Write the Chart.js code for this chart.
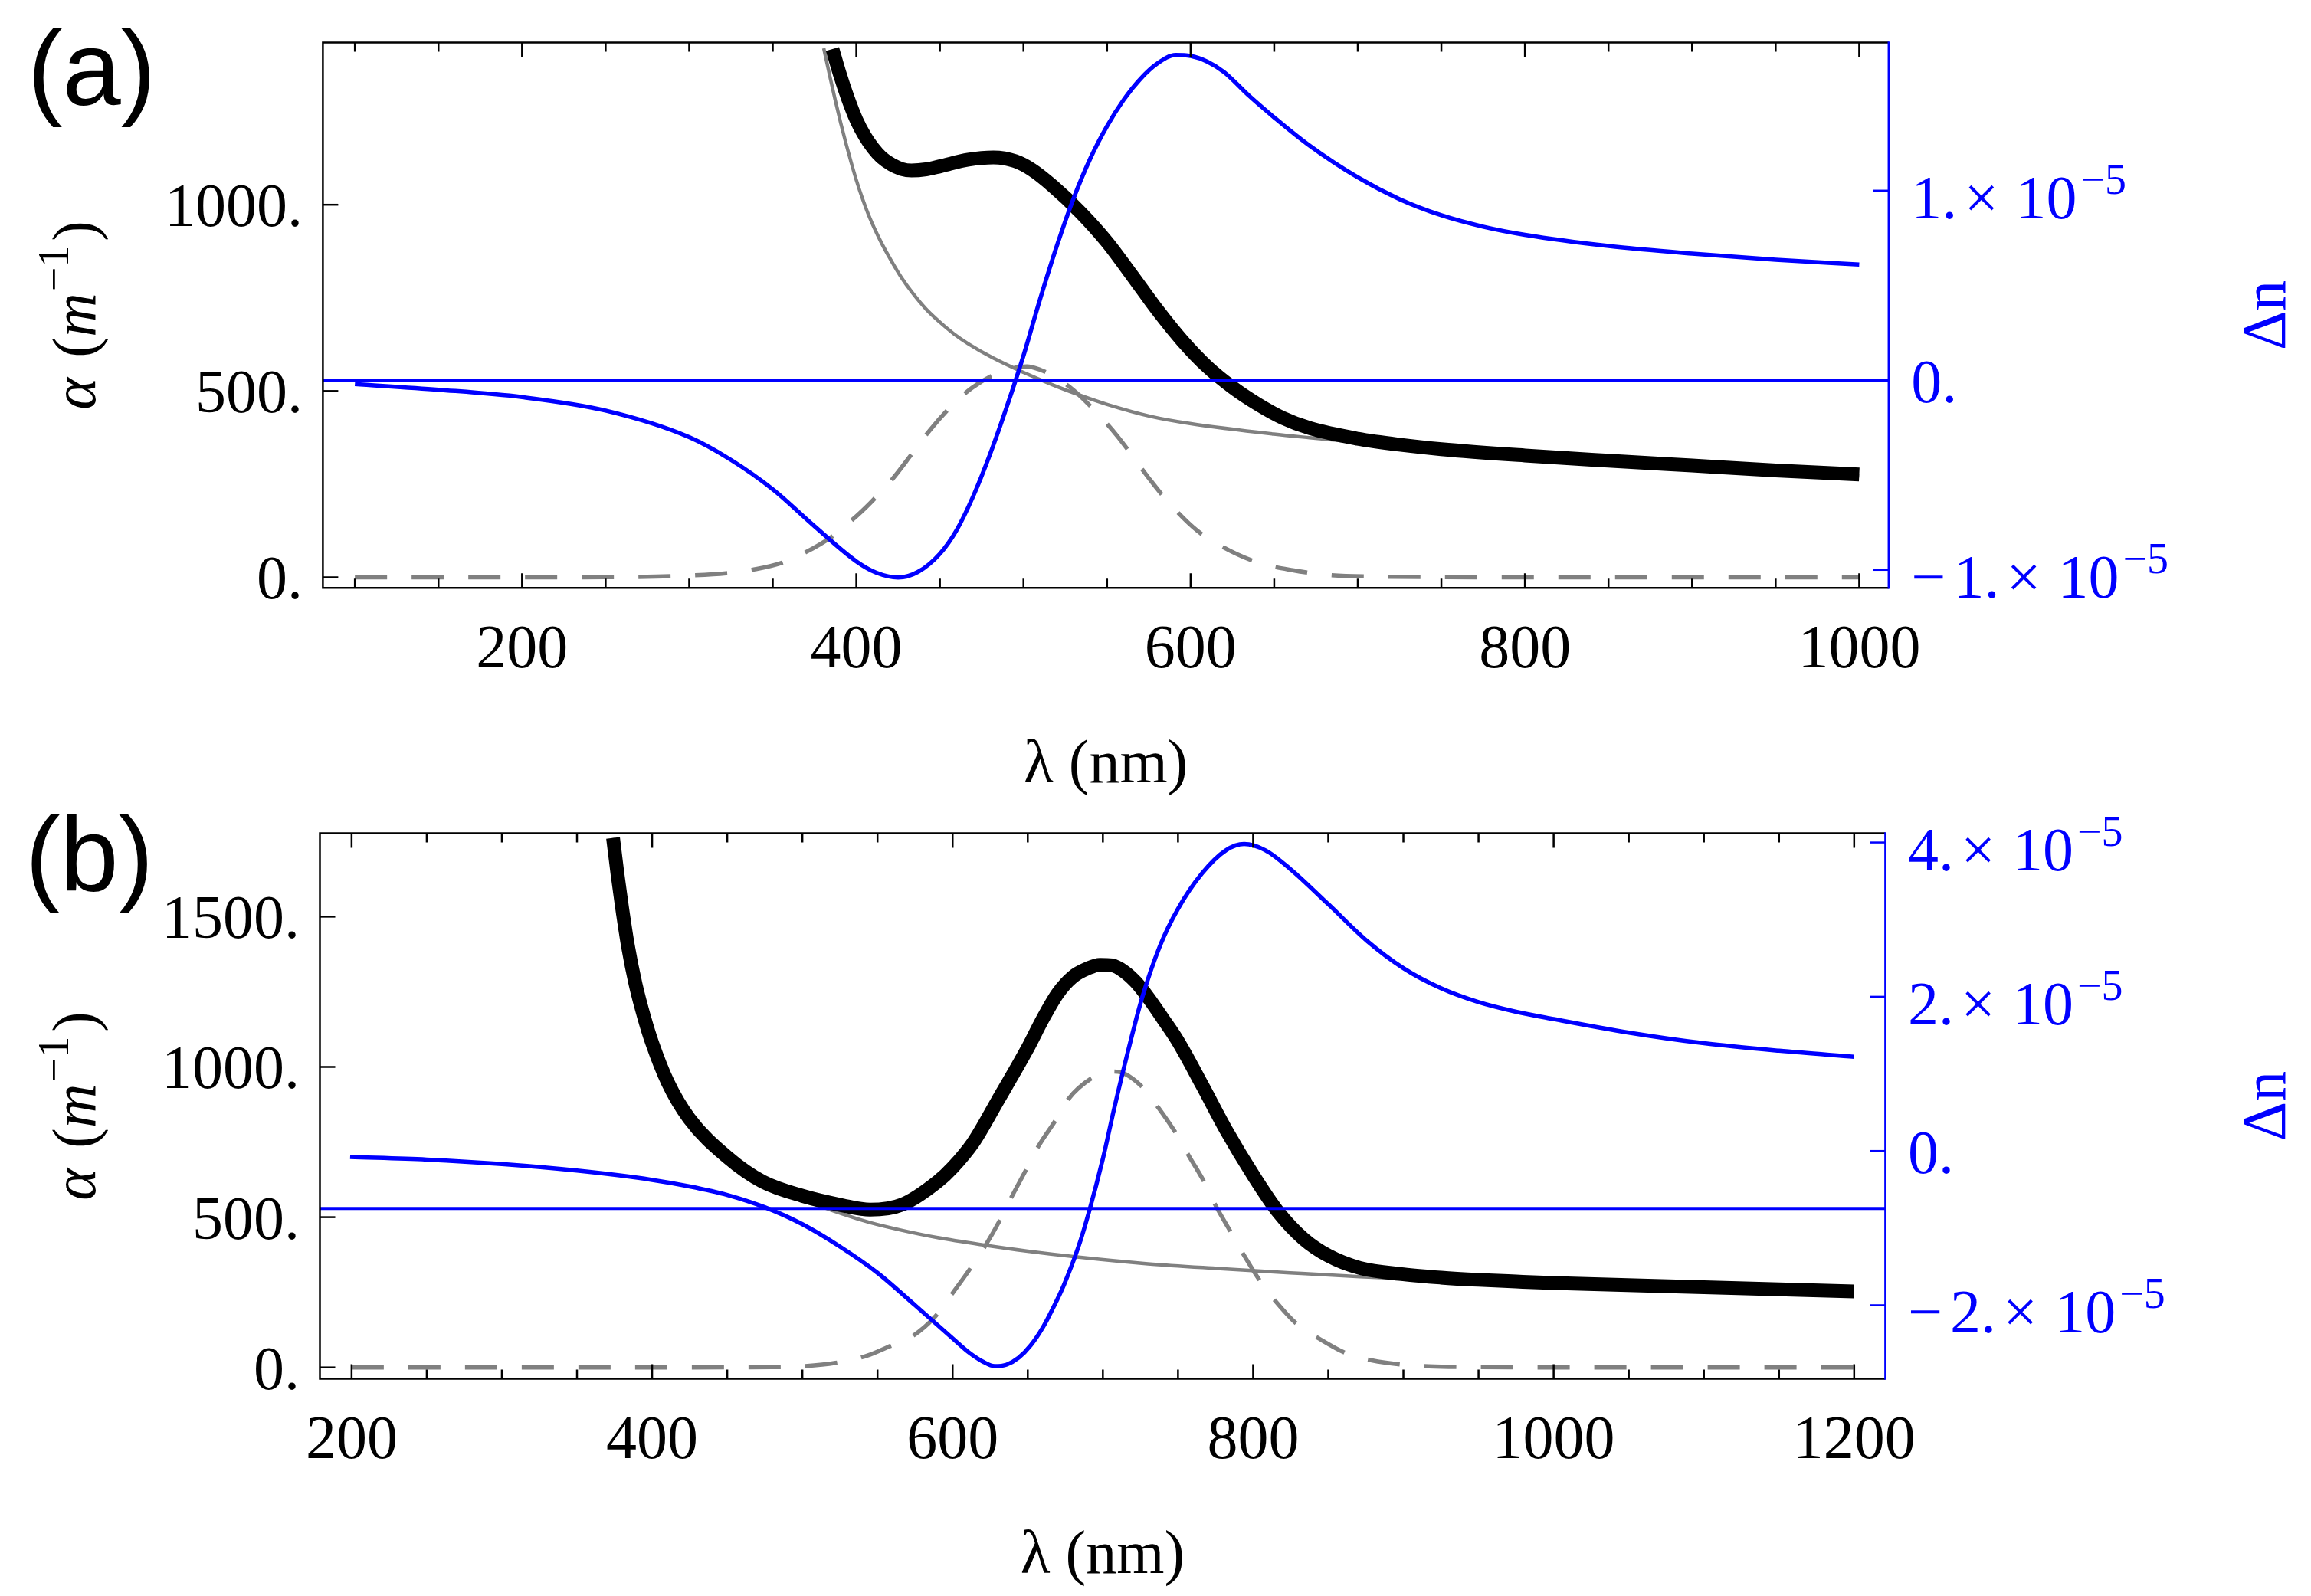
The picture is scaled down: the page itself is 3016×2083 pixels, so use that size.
<!DOCTYPE html>
<html><head><meta charset="utf-8">
<script src="https://cdn.jsdelivr.net/npm/chart.js@4.4.1/dist/chart.umd.min.js"></script>
<style>
html,body{margin:0;padding:0;background:#fff;width:3016px;height:2083px;overflow:hidden}
canvas{position:absolute;left:0}
#ca{top:0}
#cb{top:1040px}
</style></head><body>
<canvas id="ca" width="3016" height="1040"></canvas>
<canvas id="cb" width="3016" height="1043"></canvas>
<script>
// ---------------- Panel (a) data ----------------
// Δn (units of 1e-5), right axis
const dnA_x = [100,150,200,250,300,325,350,375,400,412,425,437,450,460,470,480,490,500,510,520,530,540,550,560,570,580,591,600,610,620,635,650,670,700,725,750,775,800,850,900,950,1000];
const dnA_y = [-0.02,-0.05,-0.089,-0.16,-0.30,-0.42,-0.575,-0.77,-0.955,-1.015,-1.04,-1.01,-0.915,-0.79,-0.61,-0.39,-0.14,0.13,0.43,0.71,0.96,1.17,1.34,1.48,1.59,1.67,1.715,1.71,1.68,1.625,1.50,1.386,1.245,1.07,0.955,0.87,0.81,0.767,0.708,0.668,0.636,0.610];
// total absorption α (m^-1), thick black
const alphaA_x = [385.7,390,395,400,405,410,415,421,427,433,441.7,450,467,482,495,505,517.5,534,550,565,580,595,610,625,640,655,671.5,700,725,750,800,850,900,950,1000];
const alphaA_y = [1418,1352,1285,1228,1185,1152,1127,1108,1096,1092,1095,1103,1121,1127,1117,1094,1050,980,900,810,718,635,565,510,465,428,400,372,356,344,327,313,300,287,276];
// background absorption, thin gray
const bgA_x = [380.5,384,387.3,390.5,393.7,397,400,404,408,414.3,420.6,426.9,433.3,441.7,449.7,458.5,466.9,481.7,500,517.5,534.3,549.7,576.4,599.6,649.7,671.1,700,800,900,1000];
const bgA_y = [1420,1348,1282,1222,1166,1112,1066,1012,965,904,852,805,765,720,686,653,627,589,550,516.5,488,464.5,431.5,412.6,384.3,374.8,363,323,296,272];
// Gaussian band, dashed gray
const gaussA_x = [100,200,250,280,300,322,340,356,370,385,397,408,422,433,444,457,469,482,495,502,510,518,530,541,556,575,587,604,619,640,661,682,714,750,800,1000];
const gaussA_y = [0,0,0.5,2,5,11,22,40,68,108,152,198,266,330,395,460,508,543,563,566,557,540,502,455,380,266,200,125,82,40,19,6.6,1.9,0.5,0,0];
// horizontal axis line (α units)
const refA_x = [80.85,1017.6];
const refA_y = [529,529];
// ticks (a)
const xTicksA = [100,150,200,250,300,350,400,450,500,550,600,650,700,750,800,850,900,950,1000];
const xLabelValsA = [200,400,600,800,1000];
const xLabelsA = ['200','400','600','800','1000'];
const yLabelValsA = [0,500,1000];
const yLabelsA = ['0.','500.','1000.'];
const dnLabelValsA = [-1,0,1];
const dnMantA = ['\u22121.','0.','1.'];
const dnExpA = ['\u22125','','\u22125'];

// ---------------- Panel (b) data ----------------
const dnB_x = [199,250,300,350,400,425,450,475,500,525,550,575,600,610,620,628,636,644,652,660,667,674,683.6,690.6,700,707.5,716.8,726,738,750,766,782,794,808,824.5,850,876,900,925,950,975,1000,1050,1100,1150,1200];
const dnB_y = [-0.078,-0.112,-0.170,-0.255,-0.375,-0.46,-0.57,-0.73,-0.95,-1.24,-1.58,-2.00,-2.43,-2.60,-2.73,-2.79,-2.77,-2.68,-2.52,-2.29,-2.03,-1.74,-1.25,-0.80,-0.10,0.55,1.30,1.98,2.66,3.14,3.60,3.90,3.98,3.90,3.66,3.20,2.72,2.37,2.11,1.93,1.805,1.71,1.535,1.397,1.30,1.222];
const alphaB_x = [374,377,380,384,389,395,400,410.5,424.6,450,473.6,500,527,545,566.5,590,600,613.5,630,650,660,670,680,690,698,706,714,722,730,740,750,766,782,800,817,833.5,850,871,900,925,950,975,1000,1100,1200];
const alphaB_y = [1762,1640,1530,1400,1275,1160,1080,948,829,700,618,571,539,525,542,618,665,747,888,1063,1160,1245,1300,1328,1340,1338,1318,1282,1232,1160,1085,940,790,640,515,428,372,331,310,299,291.5,286,281,267,253];
const bgB_x = [374,377,380,384,389,395,400,410.5,424.6,450,473.6,500,527,545,566.5,590,620,650,684,730,778,824.5,871,950,1000,1100,1200];
const bgB_y = [1762,1640,1530,1400,1275,1160,1080,948,829,700,618,560,510,482,456,432,408,387,367,345,329,315,302,285,276,262,249];
const gaussB_x = [200,400,480,500,522,543,557,573,588,599.5,612,622,632,639,649,657,668.6,677,693,705,710,726,737,749,757,768,775,786,794,805,815,830,843.5,863,879,899,917,950,1000,1200];
const gaussB_y = [0,0,1,4,15,39,68,103,167,244,331,407,495,565,659,735,823,893,964,985,984,934.5,864,776,706,612,539,443,372.5,285,220,140.5,97,44.6,23.5,9.4,3.6,1,0,0];
const refB_x = [178.9,1220.7];
const refB_y = [529,529];
const xTicksB = [200,250,300,350,400,450,500,550,600,650,700,750,800,850,900,950,1000,1050,1100,1150,1200];
const xLabelValsB = [200,400,600,800,1000,1200];
const xLabelsB = ['200','400','600','800','1000','1200'];
const yLabelValsB = [0,500,1000,1500];
const yLabelsB = ['0.','500.','1000.','1500.'];
const dnLabelValsB = [-2,0,2,4];
const dnMantB = ['\u22122.','0.','2.','4.'];
const dnExpB = ['\u22125','','\u22125','\u22125'];

// ---------------- drawing ----------------
const BLUE = '#0000ff', GRAY = '#808080';
const SERIF = '"Liberation Serif","Times New Roman",Times,serif';
const SANS = '"Liberation Sans",Arial,Helvetica,sans-serif';
const fnt = (s, it) => (it ? 'italic ' : '') + s + 'px ' + SERIF;
const zip = (xs, ys) => xs.map((x, i) => ({x, y: ys[i]}));

function drawRichRot(ctx, pieces, baseX, cy, color) {
  ctx.save();
  ctx.translate(baseX, cy);
  ctx.rotate(-Math.PI / 2);
  ctx.fillStyle = color;
  ctx.textAlign = 'left';
  ctx.textBaseline = 'alphabetic';
  let total = 0;
  pieces.forEach(p => { ctx.font = fnt(p.sup ? 56 : 80, p.it); p.w = ctx.measureText(p.t).width; total += p.w + (p.gap || 0); });
  let x = -total / 2;
  pieces.forEach(p => { ctx.font = fnt(p.sup ? 56 : 80, p.it); ctx.fillText(p.t, x, p.sup ? -35 : 0); x += p.w + (p.gap || 0); });
  ctx.restore();
}

function drawSci(ctx, x, y, mant, exp) {
  ctx.textAlign = 'left';
  ctx.textBaseline = 'alphabetic';
  ctx.font = fnt(80);
  let cx = x;
  let m = mant;
  if (m.charAt(0) === '\u2212') {
    ctx.fillText('\u2212', cx, y);
    cx += ctx.measureText('\u2212').width + 10;
    m = m.slice(1);
  }
  ctx.fillText(m, cx, y);
  if (!exp) return;
  cx += ctx.measureText(m).width + 9;
  ctx.fillText('\u00d7', cx, y);
  cx += ctx.measureText('\u00d7').width + 22;
  ctx.fillText('10', cx, y);
  cx += ctx.measureText('10').width + 5;
  ctx.font = fnt(56);
  ctx.fillText(exp, cx, y - 32);
}

function decorPlugin(P) {
  return {
    id: 'decor',
    afterDraw(chart) {
      const {ctx, chartArea: a} = chart;
      const sx = chart.scales.x, sy = chart.scales.y, sr = chart.scales.yR;
      ctx.save();
      ctx.lineCap = 'butt';
      ctx.lineWidth = 2.5;
      ctx.strokeStyle = '#000';
      ctx.beginPath();
      ctx.moveTo(a.right, a.top); ctx.lineTo(a.left, a.top); ctx.lineTo(a.left, a.bottom); ctx.lineTo(a.right, a.bottom);
      ctx.stroke();
      P.xTicks.forEach(v => {
        const px = sx.getPixelForValue(v);
        const len = P.xLabelVals.includes(v) ? 19 : 12;
        ctx.beginPath();
        ctx.moveTo(px, a.top); ctx.lineTo(px, a.top + len);
        ctx.moveTo(px, a.bottom); ctx.lineTo(px, a.bottom - len);
        ctx.stroke();
      });
      P.yLabelVals.forEach(v => {
        const py = sy.getPixelForValue(v);
        ctx.beginPath(); ctx.moveTo(a.left, py); ctx.lineTo(a.left + 20, py); ctx.stroke();
      });
      ctx.strokeStyle = BLUE;
      ctx.beginPath(); ctx.moveTo(a.right, a.top - 1.25); ctx.lineTo(a.right, a.bottom + 1.25); ctx.stroke();
      P.dnLabelVals.forEach(v => {
        const py = sr.getPixelForValue(v);
        ctx.beginPath(); ctx.moveTo(a.right, py); ctx.lineTo(a.right - 20, py); ctx.stroke();
      });
      ctx.fillStyle = '#000';
      ctx.font = fnt(80);
      ctx.textAlign = 'center';
      ctx.textBaseline = 'alphabetic';
      P.xLabelVals.forEach((v, i) => ctx.fillText(P.xLabels[i], sx.getPixelForValue(v), a.bottom + 104));
      ctx.textAlign = 'right';
      P.yLabelVals.forEach((v, i) => ctx.fillText(P.yLabels[i], a.left - 26.5, sy.getPixelForValue(v) + 28));
      ctx.fillStyle = BLUE;
      P.dnLabelVals.forEach((v, i) => {
        const py = sr.getPixelForValue(v);
        drawSci(ctx, a.right + 29.5, py + (P.dnExp[i] ? 36 : 28.5), P.dnMant[i], P.dnExp[i]);
      });
      ctx.fillStyle = '#000';
      ctx.font = fnt(80);
      ctx.textAlign = 'center';
      ctx.fillText('\u03bb (nm)', (a.left + a.right) / 2, a.bottom + 254);
      const cy = (a.top + a.bottom) / 2;
      drawRichRot(ctx, [
        {t: '\u03b1', it: true, gap: 0},
        {t: ' ', gap: 6},
        {t: '('},
        {t: 'm', it: true, gap: 2},
        {t: '\u22121', sup: true, gap: 6},
        {t: ')'}
      ], 124, cy, '#000');
      drawRichRot(ctx, [{t: '\u0394n'}], 2982, cy, BLUE);
      ctx.fillStyle = '#000';
      ctx.font = '137px ' + SANS;
      ctx.textAlign = 'left';
      ctx.fillText(P.panel, P.panelX, P.panelY);
      ctx.restore();
    }
  };
}

function buildPanel(id, P) {
  const cv = document.getElementById(id);
  const W = cv.width, H = cv.height;
  const common = {pointRadius: 0, pointHoverRadius: 0, fill: false, borderCapStyle: 'butt', borderJoinStyle: 'round', cubicInterpolationMode: 'monotone'};
  const datasets = [
    Object.assign({}, common, {label: 'axis', data: zip(P.refX, P.refY), yAxisID: 'y', borderColor: BLUE, borderWidth: 4, cubicInterpolationMode: 'default', tension: 0}),
    Object.assign({}, common, {label: '\u0394n', data: zip(P.dnX, P.dnY), yAxisID: 'yR', borderColor: BLUE, borderWidth: 5.5}),
    Object.assign({}, common, {label: '\u03b1', data: zip(P.alX, P.alY), yAxisID: 'y', borderColor: '#000', borderWidth: 18}),
    Object.assign({}, common, {label: 'background', data: zip(P.bgX, P.bgY), yAxisID: 'y', borderColor: GRAY, borderWidth: 4.5}),
    Object.assign({}, common, {label: 'band', data: zip(P.gX, P.gY), yAxisID: 'y', borderColor: GRAY, borderWidth: 5.5, borderDash: [42, 32]})
  ];
  const hid = {display: false};
  new Chart(cv, {
    type: 'line',
    data: {datasets},
    options: {
      animation: false, responsive: false, devicePixelRatio: 1, events: [],
      layout: {padding: {top: P.area.top, left: 0, right: 0, bottom: 0}},
      plugins: {legend: hid, tooltip: {enabled: false}},
      scales: {
        x: {type: 'linear', position: 'bottom', min: P.xMin, max: P.xMax, ticks: hid, grid: hid, border: hid,
            afterFit: s => { s.height = H - P.area.bottom; }},
        y: {type: 'linear', position: 'left', min: P.yMin, max: P.yMax, ticks: hid, grid: hid, border: hid,
            afterFit: s => { s.width = P.area.left; }},
        yR: {type: 'linear', position: 'right', min: P.rMin, max: P.rMax, ticks: hid, grid: hid, border: hid,
            afterFit: s => { s.width = W - P.area.right; }}
      }
    },
    plugins: [decorPlugin(P)]
  });
}

buildPanel('ca', {
  dnX: dnA_x, dnY: dnA_y, alX: alphaA_x, alY: alphaA_y, bgX: bgA_x, bgY: bgA_y, gX: gaussA_x, gY: gaussA_y, refX: refA_x, refY: refA_y,
  xMin: 80.85, xMax: 1017.6, yMin: -28.4, yMax: 1435.3, rMin: -1.095, rMax: 1.781,
  area: {left: 421.4, right: 2464.8, top: 55.5, bottom: 767.3},
  xTicks: xTicksA, xLabelVals: xLabelValsA, xLabels: xLabelsA, yLabelVals: yLabelValsA, yLabels: yLabelsA,
  dnLabelVals: dnLabelValsA, dnMant: dnMantA, dnExp: dnExpA,
  panel: '(a)', panelX: 36, panelY: 137
});
buildPanel('cb', {
  dnX: dnB_x, dnY: dnB_y, alX: alphaB_x, alY: alphaB_y, bgX: bgB_x, bgY: bgB_y, gX: gaussB_x, gY: gaussB_y, refX: refB_x, refY: refB_y,
  xMin: 178.9, xMax: 1220.7, yMin: -37.5, yMax: 1777.4, rMin: -2.953, rMax: 4.119,
  area: {left: 417.5, right: 2460.4, top: 47.6, bottom: 759.4},
  xTicks: xTicksB, xLabelVals: xLabelValsB, xLabels: xLabelsB, yLabelVals: yLabelValsB, yLabels: yLabelsB,
  dnLabelVals: dnLabelValsB, dnMant: dnMantB, dnExp: dnExpB,
  panel: '(b)', panelX: 33, panelY: 123
});
</script>
</body></html>
